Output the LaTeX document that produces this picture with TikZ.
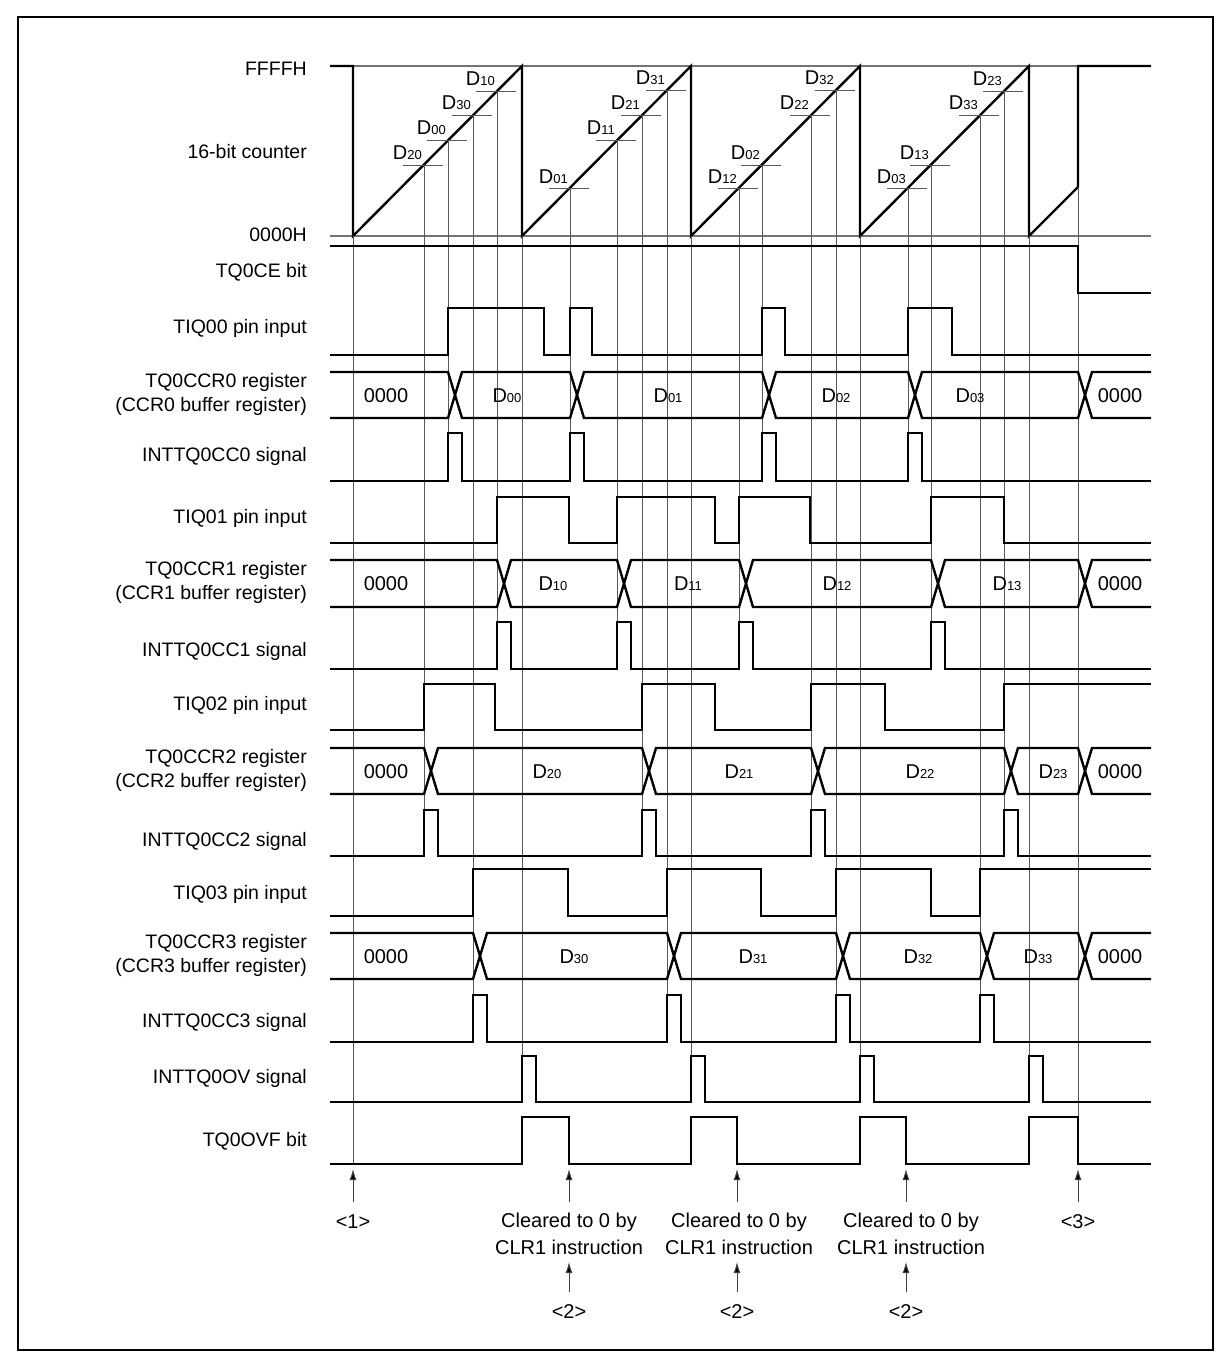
\documentclass[tikz,border=0pt]{standalone}
\usepackage{fontspec}
\setmainfont{Liberation Sans}
\usetikzlibrary{arrows.meta}

\newcommand{\dreg}[1]{D{\fontsize{13}{14}\selectfont #1}}

\begin{document}
\begin{tikzpicture}[
  x=1pt, y=-1pt,
  wave/.style={line width=2.4pt, line join=miter},
  guide/.style={black!55, line width=1.1pt},
  capline/.style={black!65, line width=0.9pt},
  signame/.style={anchor=east, inner sep=0pt, font=\fontsize{19.5}{22}\selectfont},
  busval/.style={inner sep=0pt, font=\fontsize{20}{22}\selectfont},
  capval/.style={anchor=base east, inner sep=0pt, font=\fontsize{20}{22}\selectfont},
  note/.style={inner sep=0pt, font=\fontsize{20}{23}\selectfont},
  uparrow/.style={-{Latex[length=11pt, width=7pt, fill=black]}, black!75, line width=1pt},
]
\useasboundingbox (0,0) rectangle (1231,1367);

% ===== Frame =====
\draw[line width=2pt] (18,17) rectangle (1213,1350);

% ===== Signal names =====
\node[signame] (n-ffff) at (307,69) {FFFFH};
\node[signame] (n-cnt) at (307,152) {16-bit counter};
\node[signame] (n-zero) at (307,235) {0000H};
\node[signame] (n-ce) at (307,272) {TQ0CE bit};
\node[signame] (n-tiq0) at (307,328) {TIQ00 pin input};
\node[signame] (n-ccr0) at (307,382) {TQ0CCR0 register};
\node[signame] (n-buf0) at (307,406) {(CCR0 buffer register)};
\node[signame] (n-int0) at (307,456) {INTTQ0CC0 signal};
\node[signame] (n-tiq1) at (307,518) {TIQ01 pin input};
\node[signame] (n-ccr1) at (307,570) {TQ0CCR1 register};
\node[signame] (n-buf1) at (307,594) {(CCR1 buffer register)};
\node[signame] (n-int1) at (307,651) {INTTQ0CC1 signal};
\node[signame] (n-tiq2) at (307,705) {TIQ02 pin input};
\node[signame] (n-ccr2) at (307,758) {TQ0CCR2 register};
\node[signame] (n-buf2) at (307,782) {(CCR2 buffer register)};
\node[signame] (n-int2) at (307,841) {INTTQ0CC2 signal};
\node[signame] (n-tiq3) at (307,894) {TIQ03 pin input};
\node[signame] (n-ccr3) at (307,943) {TQ0CCR3 register};
\node[signame] (n-buf3) at (307,967) {(CCR3 buffer register)};
\node[signame] (n-int3) at (307,1022) {INTTQ0CC3 signal};
\node[signame] (n-ov) at (307,1078) {INTTQ0OV signal};
\node[signame] (n-ovf) at (307,1141) {TQ0OVF bit};

% ===== 16-bit counter =====
\draw[guide] (353,66) -- (1151,66);
\draw[guide] (330,236) -- (1151,236);
\draw[wave] (330,66) -- (353,66) -- (353,236) -- (522,66) -- (522,236) -- (691,66)
  -- (691,236) -- (860,66) -- (860,236) -- (1029,66) -- (1029,236) -- (1078,187)
  -- (1078,66) -- (1151,66);

% Capture points: tick, value and drop line
\draw[capline] (403,165) -- (443,165) (424,165) -- (424,810);
\node[capval] (c20) at (422,160) {\dreg{20}};
\draw[capline] (427,140) -- (467,140) (448,140) -- (448,433);
\node[capval] (c00) at (446,135) {\dreg{00}};
\draw[capline] (452,115) -- (492,115) (473,115) -- (473,995);
\node[capval] (c30) at (471,110) {\dreg{30}};
\draw[capline] (476,91) -- (516,91) (497,91) -- (497,622);
\node[capval] (c10) at (495,86) {\dreg{10}};

\draw[capline] (549,188) -- (589,188) (570,188) -- (570,433);
\node[capval] (c01) at (568,183) {\dreg{01}};
\draw[capline] (596,140) -- (636,140) (617,140) -- (617,622);
\node[capval] (c11) at (615,135) {\dreg{11}};
\draw[capline] (621,115) -- (661,115) (642,115) -- (642,810);
\node[capval] (c21) at (640,110) {\dreg{21}};
\draw[capline] (646,90) -- (686,90) (667,90) -- (667,995);
\node[capval] (c31) at (665,85) {\dreg{31}};

\draw[capline] (718,188) -- (758,188) (739,188) -- (739,622);
\node[capval] (c12) at (737,183) {\dreg{12}};
\draw[capline] (741,165) -- (781,165) (762,165) -- (762,433);
\node[capval] (c02) at (760,160) {\dreg{02}};
\draw[capline] (790,115) -- (830,115) (811,115) -- (811,810);
\node[capval] (c22) at (809,110) {\dreg{22}};
\draw[capline] (815,90) -- (855,90) (836,90) -- (836,995);
\node[capval] (c32) at (834,85) {\dreg{32}};

\draw[capline] (887,188) -- (927,188) (908,188) -- (908,433);
\node[capval] (c03) at (906,183) {\dreg{03}};
\draw[capline] (910,165) -- (950,165) (931,165) -- (931,622);
\node[capval] (c13) at (929,160) {\dreg{13}};
\draw[capline] (959,115) -- (999,115) (980,115) -- (980,995);
\node[capval] (c33) at (978,110) {\dreg{33}};
\draw[capline] (983,91) -- (1023,91) (1004,91) -- (1004,810);
\node[capval] (c23) at (1002,86) {\dreg{23}};

% Start, overflow and stop lines
\draw[capline] (353,236) -- (353,1164);
\draw[capline] (522,236) -- (522,1056);
\draw[capline] (691,236) -- (691,1056);
\draw[capline] (860,236) -- (860,1056);
\draw[capline] (1029,236) -- (1029,1056);
\draw[capline] (1078,187) -- (1078,1164);

% ===== TQ0CE bit =====
\draw[wave] (330,246) -- (1078,246) -- (1078,293) -- (1151,293);

% ===== Channel 0 =====
\draw[wave] (330,355) -- (448,355) -- (448,308) -- (544,308) -- (544,355) -- (570,355)
  -- (570,308) -- (592,308) -- (592,355) -- (762,355) -- (762,308) -- (785,308)
  -- (785,355) -- (908,355) -- (908,308) -- (952,308) -- (952,355) -- (1151,355);
\draw[wave] (330,372) -- (448,372) -- (462,418) -- (570,418) -- (584,372) -- (762,372)
  -- (776,418) -- (908,418) -- (922,372) -- (1078,372) -- (1092,418) -- (1151,418);
\draw[wave] (330,418) -- (448,418) -- (462,372) -- (570,372) -- (584,418) -- (762,418)
  -- (776,372) -- (908,372) -- (922,418) -- (1078,418) -- (1092,372) -- (1151,372);
\node[busval] (v0a) at (386,396) {0000};
\node[busval] (v0b) at (507,396) {\dreg{00}};
\node[busval] (v0c) at (668,396) {\dreg{01}};
\node[busval] (v0d) at (836,396) {\dreg{02}};
\node[busval] (v0e) at (970,396) {\dreg{03}};
\node[busval] (v0f) at (1120,396) {0000};
\draw[wave] (330,481) -- (448,481) -- (448,433) -- (462,433) -- (462,481) -- (570,481)
  -- (570,433) -- (584,433) -- (584,481) -- (762,481) -- (762,433) -- (776,433)
  -- (776,481) -- (908,481) -- (908,433) -- (922,433) -- (922,481) -- (1151,481);

% ===== Channel 1 =====
\draw[wave] (330,543) -- (497,543) -- (497,497) -- (569,497) -- (569,543) -- (617,543)
  -- (617,497) -- (715,497) -- (715,543) -- (739,543) -- (739,497) -- (810,497)
  -- (810,543) -- (931,543) -- (931,497) -- (1004,497) -- (1004,543) -- (1151,543);
\draw[wave] (330,560) -- (497,560) -- (511,607) -- (617,607) -- (631,560) -- (739,560)
  -- (753,607) -- (931,607) -- (945,560) -- (1078,560) -- (1092,607) -- (1151,607);
\draw[wave] (330,607) -- (497,607) -- (511,560) -- (617,560) -- (631,607) -- (739,607)
  -- (753,560) -- (931,560) -- (945,607) -- (1078,607) -- (1092,560) -- (1151,560);
\node[busval] (v1a) at (386,584) {0000};
\node[busval] (v1b) at (553,584) {\dreg{10}};
\node[busval] (v1c) at (688,584) {\dreg{11}};
\node[busval] (v1d) at (837,584) {\dreg{12}};
\node[busval] (v1e) at (1007,584) {\dreg{13}};
\node[busval] (v1f) at (1120,584) {0000};
\draw[wave] (330,669) -- (497,669) -- (497,622) -- (511,622) -- (511,669) -- (617,669)
  -- (617,622) -- (631,622) -- (631,669) -- (739,669) -- (739,622) -- (753,622)
  -- (753,669) -- (931,669) -- (931,622) -- (945,622) -- (945,669) -- (1151,669);

% ===== Channel 2 =====
\draw[wave] (330,730) -- (424,730) -- (424,684) -- (495,684) -- (495,730) -- (642,730)
  -- (642,684) -- (715,684) -- (715,730) -- (811,730) -- (811,684) -- (885,684)
  -- (885,730) -- (1004,730) -- (1004,684) -- (1151,684);
\draw[wave] (330,748) -- (424,748) -- (438,794) -- (642,794) -- (656,748) -- (811,748)
  -- (825,794) -- (1004,794) -- (1018,748) -- (1078,748) -- (1092,794) -- (1151,794);
\draw[wave] (330,794) -- (424,794) -- (438,748) -- (642,748) -- (656,794) -- (811,794)
  -- (825,748) -- (1004,748) -- (1018,794) -- (1078,794) -- (1092,748) -- (1151,748);
\node[busval] (v2a) at (386,772) {0000};
\node[busval] (v2b) at (547,772) {\dreg{20}};
\node[busval] (v2c) at (739,772) {\dreg{21}};
\node[busval] (v2d) at (920,772) {\dreg{22}};
\node[busval] (v2e) at (1053,772) {\dreg{23}};
\node[busval] (v2f) at (1120,772) {0000};
\draw[wave] (330,856) -- (424,856) -- (424,810) -- (438,810) -- (438,856) -- (642,856)
  -- (642,810) -- (656,810) -- (656,856) -- (811,856) -- (811,810) -- (825,810)
  -- (825,856) -- (1004,856) -- (1004,810) -- (1018,810) -- (1018,856) -- (1151,856);

% ===== Channel 3 =====
\draw[wave] (330,916) -- (473,916) -- (473,869) -- (568,869) -- (568,916) -- (667,916)
  -- (667,869) -- (761,869) -- (761,916) -- (836,916) -- (836,869) -- (931,869)
  -- (931,916) -- (980,916) -- (980,869) -- (1151,869);
\draw[wave] (330,933) -- (473,933) -- (487,979) -- (667,979) -- (681,933) -- (836,933)
  -- (850,979) -- (980,979) -- (994,933) -- (1078,933) -- (1092,979) -- (1151,979);
\draw[wave] (330,979) -- (473,979) -- (487,933) -- (667,933) -- (681,979) -- (836,979)
  -- (850,933) -- (980,933) -- (994,979) -- (1078,979) -- (1092,933) -- (1151,933);
\node[busval] (v3a) at (386,957) {0000};
\node[busval] (v3b) at (574,957) {\dreg{30}};
\node[busval] (v3c) at (753,957) {\dreg{31}};
\node[busval] (v3d) at (918,957) {\dreg{32}};
\node[busval] (v3e) at (1038,957) {\dreg{33}};
\node[busval] (v3f) at (1120,957) {0000};
\draw[wave] (330,1042) -- (473,1042) -- (473,995) -- (487,995) -- (487,1042) -- (667,1042)
  -- (667,995) -- (681,995) -- (681,1042) -- (836,1042) -- (836,995) -- (850,995)
  -- (850,1042) -- (980,1042) -- (980,995) -- (994,995) -- (994,1042) -- (1151,1042);

% ===== Overflow =====
\draw[wave] (330,1102) -- (522,1102) -- (522,1056) -- (536,1056) -- (536,1102) -- (691,1102)
  -- (691,1056) -- (705,1056) -- (705,1102) -- (860,1102) -- (860,1056) -- (874,1056)
  -- (874,1102) -- (1029,1102) -- (1029,1056) -- (1043,1056) -- (1043,1102) -- (1151,1102);
\draw[wave] (330,1164) -- (522,1164) -- (522,1117) -- (569,1117) -- (569,1164) -- (691,1164)
  -- (691,1117) -- (737,1117) -- (737,1164) -- (860,1164) -- (860,1117) -- (906,1117)
  -- (906,1164) -- (1029,1164) -- (1029,1117) -- (1078,1117) -- (1078,1164) -- (1151,1164);

% ===== Notes =====
\draw[uparrow] (353,1202) -- (353,1169);
\node[note] (m1) at (353,1222) {<1>};
\draw[uparrow] (569,1202) -- (569,1169);
\node[note] (clr1a) at (569,1222) {Cleared to 0 by};
\node[note] (clr1b) at (569,1247) {CLR1 instruction};
\draw[uparrow] (569,1292) -- (569,1262);
\node[note] (m2a) at (569,1312) {<2>};
\draw[uparrow] (737,1202) -- (737,1169);
\node[note] (clr2a) at (739,1222) {Cleared to 0 by};
\node[note] (clr2b) at (739,1247) {CLR1 instruction};
\draw[uparrow] (737,1292) -- (737,1262);
\node[note] (m2b) at (737,1312) {<2>};
\draw[uparrow] (906,1202) -- (906,1169);
\node[note] (clr3a) at (911,1222) {Cleared to 0 by};
\node[note] (clr3b) at (911,1247) {CLR1 instruction};
\draw[uparrow] (906,1292) -- (906,1262);
\node[note] (m2c) at (906,1312) {<2>};
\draw[uparrow] (1078,1202) -- (1078,1169);
\node[note] (m3) at (1078,1222) {<3>};

\end{tikzpicture}
\end{document}
